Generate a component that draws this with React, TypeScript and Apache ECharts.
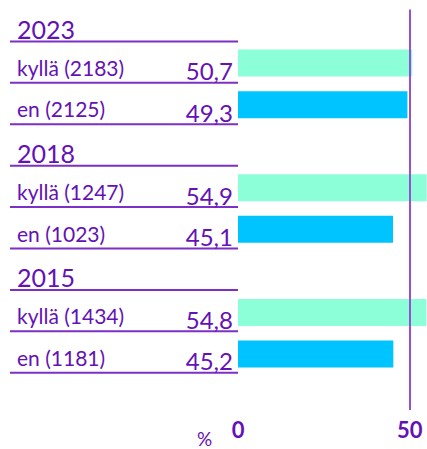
import React, { useEffect, useRef } from "react";
import * as echarts from "echarts";

const years = ["2023", "2018", "2015"];
const yesLabel = "kyllä";
const noLabel = "en";
const yesCounts = [2183, 1247, 1434];
const noCounts = [2125, 1023, 1181];
const yesShare = [50.7, 54.9, 54.8];
const noShare = [49.3, 45.1, 45.2];
const xTicks = [0, 50];
const unitLabel = "%";

const TEXT = "#6411b6";
const LINE = "#7d2fc6";
const VLINE = "#9a4fd2";
const YES_COLOR = "#8cffd8";
const NO_COLOR = "#00c4ff";
const FONT = "Lato";

type Row = { kind: "header" | "yes" | "no"; label: string; value: number | null };

const rows: Row[] = [];
years.forEach((y, i) => {
  rows.push({ kind: "header", label: y, value: null });
  rows.push({ kind: "yes", label: `${yesLabel} (${yesCounts[i]})`, value: yesShare[i] });
  rows.push({ kind: "no", label: `${noLabel} (${noCounts[i]})`, value: noShare[i] });
});
const rowKeys = rows.map((_, i) => String(i));
const fmt = (v: number) => v.toFixed(1).replace(".", ",");

export default function App() {
  const ref = useRef<HTMLDivElement>(null);
  useEffect(() => {
    document.body.style.margin = "0";
    const chart = echarts.init(ref.current!, null, { renderer: "svg" });
    const bandTop = -1.25;
    const bandH = 9 * 41.55;
    const xMax = 55;
    const pxPerUnit = 3.44;
    const barLeft = 238;
    chart.setOption({
      animation: false,
      grid: [
        { left: 10, width: 228, top: bandTop, height: bandH },
        { left: barLeft, width: xMax * pxPerUnit, top: bandTop + 2, height: bandH },
        { left: barLeft, width: xMax * pxPerUnit, top: 9.5, height: 400.5 },
      ],
      xAxis: [
        { gridIndex: 0, type: "value", min: 0, max: 1, show: false },
        { gridIndex: 1, type: "value", min: 0, max: xMax, show: false },
        {
          gridIndex: 2,
          type: "value",
          min: 0,
          max: xMax,
          interval: xTicks[1] - xTicks[0],
          axisLine: { show: false },
          axisTick: { show: false },
          splitLine: { show: false },
          axisLabel: {
            showMaxLabel: false,
            color: TEXT,
            fontFamily: FONT,
            fontWeight: "bold",
            fontSize: 22,
            margin: 8,
            formatter: (v: number) => (xTicks.includes(v) ? String(v) : ""),
          },
        },
      ],
      yAxis: [
        { gridIndex: 0, type: "category", data: rowKeys, inverse: true, show: false },
        { gridIndex: 1, type: "category", data: rowKeys, inverse: true, show: false },
        { gridIndex: 2, type: "value", min: 0, max: 1, show: false },
      ],
      graphic: [
        {
          type: "text",
          left: 197,
          top: 429,
          style: { text: unitLabel, fill: TEXT, fontFamily: FONT, fontSize: 19 },
        },
      ],
      series: [
        {
          type: "scatter",
          xAxisIndex: 2,
          yAxisIndex: 2,
          data: [],
          z: 1,
          silent: true,
          markLine: {
            silent: true,
            symbol: "none",
            label: { show: false },
            lineStyle: { color: VLINE, width: 2, type: "solid" },
            data: [{ xAxis: xTicks[1] }],
          },
        },
        {
          type: "custom",
          xAxisIndex: 0,
          yAxisIndex: 0,
          data: rows.map((_, i) => [0, i]),
          encode: { x: 0, y: 1 },
          renderItem: (params: any, api: any) => {
            const i = params.dataIndex;
            const row = rows[i];
            const left = api.coord([0, i]);
            const right = api.coord([1, i]);
            const h = api.size([0, 1])[1];
            const yb = left[1] + h / 2;
            const children: any[] = [
              {
                type: "line",
                shape: { x1: left[0], y1: yb, x2: right[0], y2: yb },
                style: { stroke: LINE, lineWidth: 2 },
              },
            ];
            if (row.kind === "header") {
              children.push({
                type: "text",
                style: {
                  text: row.label,
                  x: left[0] + 7,
                  y: yb - 12.4,
                  fill: TEXT,
                  fontFamily: FONT,
                  fontSize: 25,
                  align: "left",
                  verticalAlign: "middle",
                },
              });
            } else {
              children.push({
                type: "text",
                style: {
                  text: row.label,
                  x: left[0] + 7,
                  y: yb - 15.3,
                  fill: TEXT,
                  fontFamily: FONT,
                  fontSize: 21,
                  align: "left",
                  verticalAlign: "middle",
                },
              });
              children.push({
                type: "text",
                style: {
                  text: fmt(row.value as number),
                  x: right[0] - 5,
                  y: yb - 12,
                  fill: TEXT,
                  fontFamily: FONT,
                  fontSize: 24,
                  align: "right",
                  verticalAlign: "middle",
                },
              });
            }
            return { type: "group", children };
          },
        },
        {
          type: "bar",
          xAxisIndex: 1,
          yAxisIndex: 1,
          barWidth: 27,
          z: 3,
          data: rows.map((r) =>
            r.value === null
              ? null
              : { value: r.value, itemStyle: { color: r.kind === "yes" ? YES_COLOR : NO_COLOR } }
          ),
        },
      ],
    });
    return () => chart.dispose();
  }, []);
  return <div ref={ref} style={{ width: 427, height: 449 }} />;
}
